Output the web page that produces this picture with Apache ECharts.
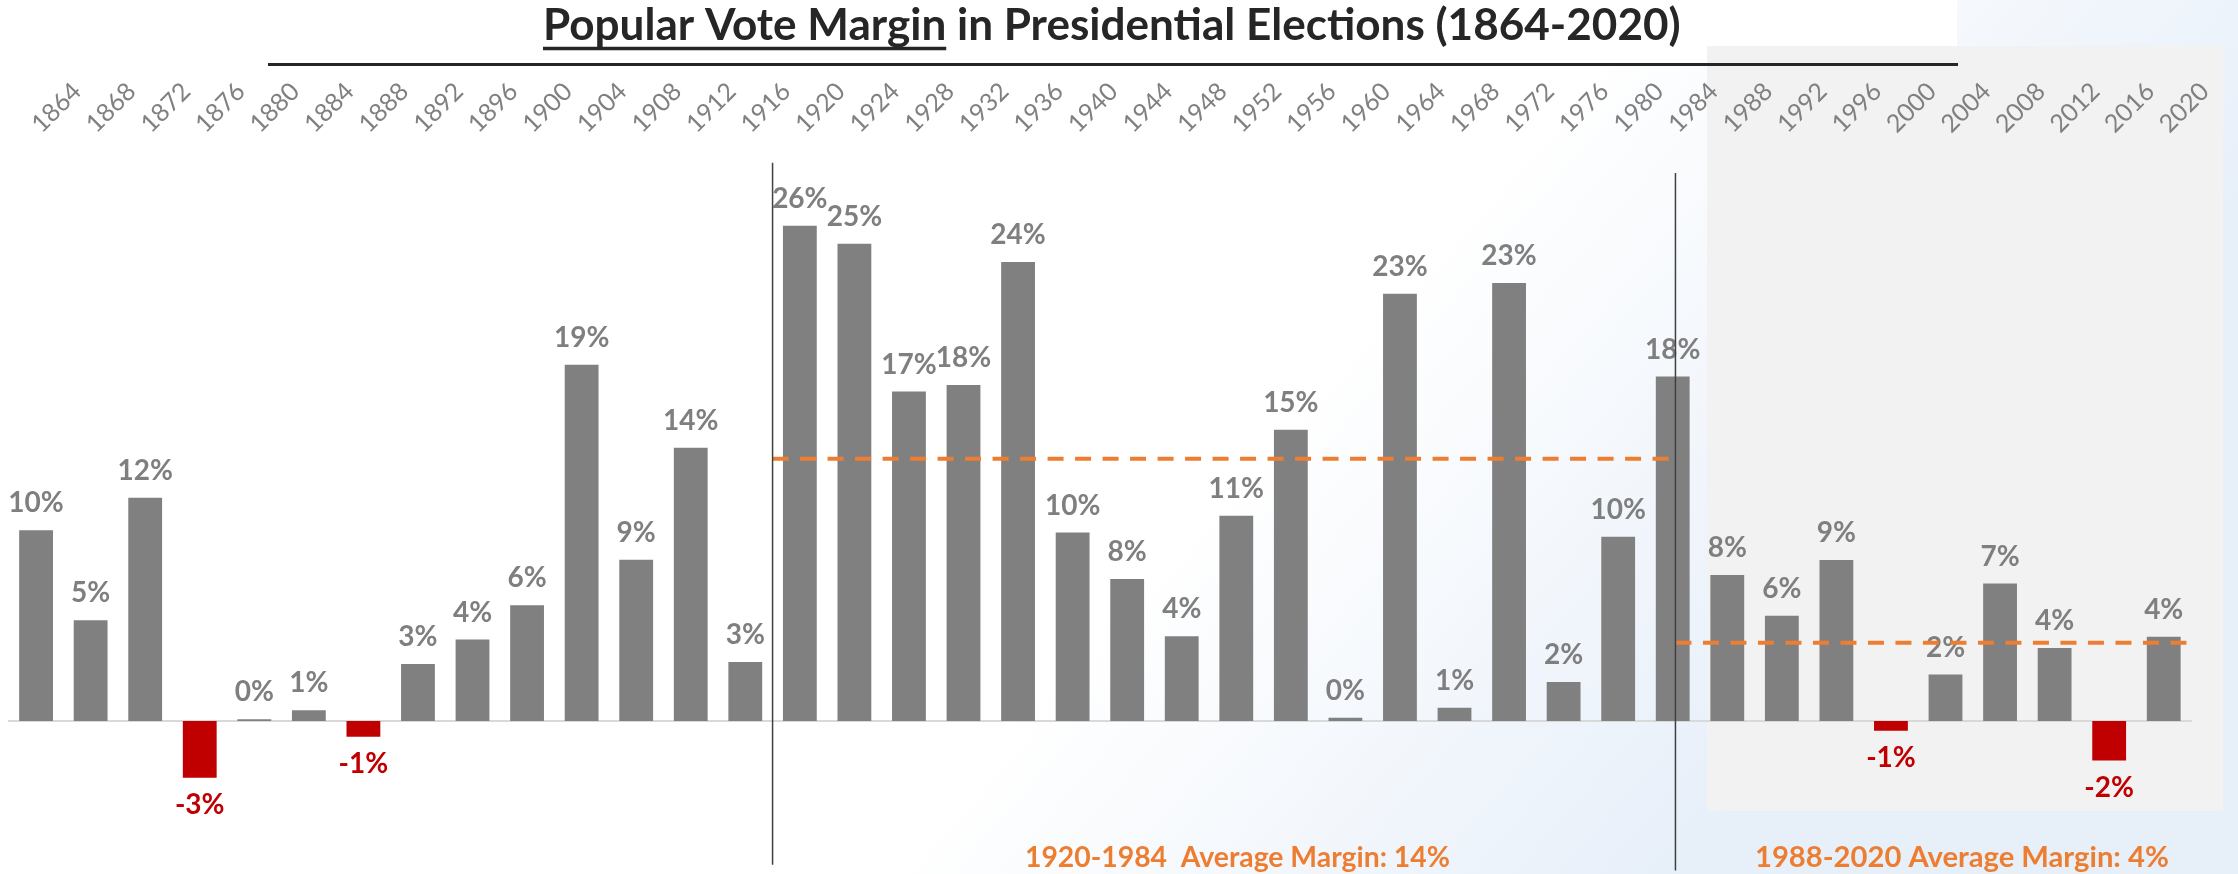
<!DOCTYPE html>
<html><head><meta charset="utf-8">
<script src="https://cdn.jsdelivr.net/npm/echarts@6/dist/echarts.min.js"></script>
<style>html,body{margin:0;padding:0;background:#fff}#c{width:2238px;height:874px}</style>
</head><body><div id="c"></div>
<script>
// ---------- DATA ----------
const years = [1864,1868,1872,1876,1880,1884,1888,1892,1896,1900,1904,1908,1912,1916,1920,1924,1928,1932,1936,1940,1944,1948,1952,1956,1960,1964,1968,1972,1976,1980,1984,1988,1992,1996,2000,2004,2008,2012,2016,2020];
const margins = [10.08,5.32,11.80,-3.00,0.09,0.57,-0.83,3.01,4.31,6.12,18.83,8.53,14.44,3.12,26.17,25.22,17.41,17.76,24.26,9.96,7.50,4.48,10.85,15.40,0.17,22.58,0.70,23.15,2.06,9.74,18.21,7.72,5.56,8.51,-0.51,2.46,7.27,3.86,-2.09,4.45];
const periodStart = [1920, 1988];
const periodEnd = [1984, 2020];
const periodText = ['1920-1984  Average Margin: 14%', '1988-2020 Average Margin: 4%'];
const titleMain = 'Popular Vote Margin';
const titleRest = ' in Presidential Elections (1864-2020)';

// ---------- DERIVED ----------
const categories = years.map(String);
const avg = periodStart.map((s, i) => {
  const v = margins.filter((m, k) => years[k] >= s && years[k] <= periodEnd[i]);
  return v.reduce((a, b) => a + b, 0) / v.length;
});

// ---------- LAYOUT ----------
const FONT = 'Lato';
const GRAY = '#7f7f7f', RED = '#c00000', ORANGE = '#ed7d31', DARK = '#262626';
const sep = [1918, 1984.2];          // separator positions in year units
const sepTop = [29.5, 28.96], sepBottom = [-7.6, -7.9];
const mctx = document.createElement('canvas').getContext('2d');
function fit(text, weight, target) { mctx.font = weight + ' 100px ' + FONT; return 100 * target / mctx.measureText(text).width; }
function width(text, weight, size) { mctx.font = weight + ' ' + size + 'px ' + FONT; return mctx.measureText(text).width; }

const titleSize = fit(titleMain + titleRest, 'bold', 1138);
const titleX = 543;
const ulW = width(titleMain, 'bold', titleSize);
const bSize1 = fit(periodText[0], 'bold', 425);
const bSize2 = fit(periodText[1], 'bold', 414);

const chart = echarts.init(document.getElementById('c'), null, {renderer: 'canvas'});

const barData = margins.map(v => ({
  value: v,
  itemStyle: {color: v < 0 ? RED : '#808080'},
  label: {position: v < 0 ? 'bottom' : 'top', color: v < 0 ? RED : GRAY}
}));

chart.setOption({
  animation: false,
  backgroundColor: 'transparent',
  graphic: [
    {type: 'rect', z: -100, silent: true, shape: {x: 0, y: 0, width: 2238, height: 874},
     style: {fill: new echarts.graphic.LinearGradient(0.3, 0, 0.75, 1, [
       {offset: 0, color: '#ffffff'}, {offset: 0.55, color: '#ffffff'}, {offset: 1, color: '#e7eff9'}])}},
    {type: 'rect', z: -90, silent: true, shape: {x: 0, y: 0, width: 1957, height: 63}, style: {fill: '#ffffff'}},
    {type: 'rect', z: -80, silent: true, shape: {x: 1707, y: 46, width: 516, height: 765}, style: {fill: '#f2f2f2'}},
    {type: 'line', z: 10, silent: true, shape: {x1: 268, y1: 64.5, x2: 1958, y2: 64.5}, style: {stroke: DARK, lineWidth: 3}},
    {type: 'text', z: 10, silent: true, x: titleX, y: 26,
     style: {text: titleMain + titleRest, font: 'bold ' + titleSize + 'px ' + FONT, fill: DARK, align: 'left', verticalAlign: 'middle'}},
    {type: 'line', z: 10, silent: true, shape: {x1: titleX, y1: 48.5, x2: titleX + ulW, y2: 48.5}, style: {stroke: DARK, lineWidth: 3.5}},
    {type: 'text', z: 10, silent: true, x: 1025, y: 858,
     style: {text: periodText[0], font: 'bold ' + bSize1 + 'px ' + FONT, fill: ORANGE, align: 'left', verticalAlign: 'middle'}},
    {type: 'text', z: 10, silent: true, x: 1755, y: 858,
     style: {text: periodText[1], font: 'bold ' + bSize2 + 'px ' + FONT, fill: ORANGE, align: 'left', verticalAlign: 'middle'}}
  ],
  grid: {left: 8.8, right: 47, top: 153.4, bottom: 1.6, containLabel: false, outerBoundsMode: 'none'},
  xAxis: [
    {type: 'category', data: categories, position: 'top',
     axisLine: {show: false, onZero: false}, axisTick: {show: false}, splitLine: {show: false},
     axisLabel: {interval: 0, rotate: -45, align: 'left', verticalAlign: 'middle', margin: 25, hideOverlap: false,
       fontFamily: FONT, fontSize: 25, color: '#808080'}},
    {type: 'value', min: 1862, max: 2022, position: 'bottom', show: true,
     axisLine: {show: true, onZero: true, lineStyle: {color: '#d9d9d9', width: 2}},
     axisTick: {show: false}, axisLabel: {show: false}, splitLine: {show: false}}
  ],
  yAxis: [{type: 'value', min: -8, max: 30, show: false, splitLine: {show: false}}],
  series: [
    {type: 'bar', xAxisIndex: 0, yAxisIndex: 0, barWidth: '62%', data: barData, z: 2,
     label: {show: true, distance: 13, fontFamily: FONT, fontWeight: 'bold', fontSize: 28, textBorderWidth: 0,
       formatter: p => Math.round(p.value) + '%'}},
    {type: 'line', xAxisIndex: 1, yAxisIndex: 0, z: 3, symbol: 'none', silent: true,
     lineStyle: {color: ORANGE, width: 4, type: [16, 11.5], cap: 'butt'},
     data: [[sep[0], avg[0]], [sep[1], avg[0]]]},
    {type: 'line', xAxisIndex: 1, yAxisIndex: 0, z: 3, symbol: 'none', silent: true,
     lineStyle: {color: ORANGE, width: 4, type: [16, 11.5], cap: 'butt'},
     data: [[sep[1], avg[1]], [2022, avg[1]]]},
    {type: 'line', xAxisIndex: 1, yAxisIndex: 0, z: 4, symbol: 'none', silent: true,
     lineStyle: {color: '#404040', width: 1.5},
     data: [[sep[0], sepTop[0]], [sep[0], sepBottom[0]]]},
    {type: 'line', xAxisIndex: 1, yAxisIndex: 0, z: 4, symbol: 'none', silent: true,
     lineStyle: {color: '#404040', width: 1.5},
     data: [[sep[1], sepTop[1]], [sep[1], sepBottom[1]]]}
  ]
});
</script></body></html>
